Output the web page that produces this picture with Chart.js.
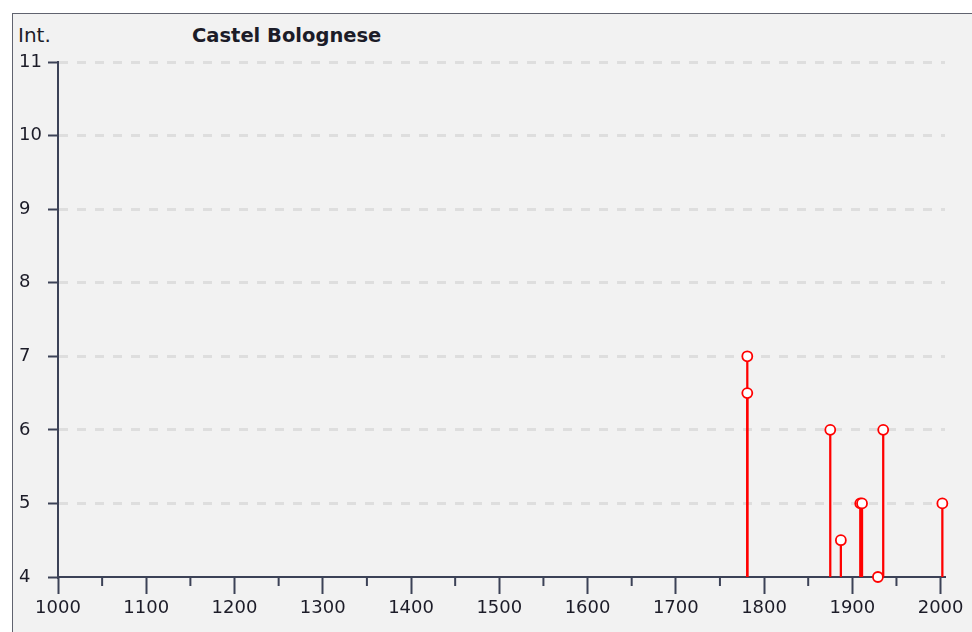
<!DOCTYPE html>
<html>
<head>
<meta charset="utf-8">
<script src="https://cdn.jsdelivr.net/npm/chart.js@4/dist/chart.umd.min.js"></script>
<style>
  html, body { margin: 0; padding: 0; background: #fff; overflow: hidden; }
  body { width: 972px; height: 632px; position: relative; }
  #frame { position: absolute; left: 12px; top: 13px; width: 1000px; height: 700px;
           border: 1px solid #60636f; background: #f2f2f2; }
  #wrap { position: absolute; left: 13px; top: 14px; width: 959px; height: 618px; }
  .lbl { position: absolute; font-family: "DejaVu Sans", sans-serif; font-size: 19.5px;
         line-height: 19px; color: #1c1c28; white-space: nowrap; }
  #ytitle { left: 18px; top: 26px; font-size: 20px; }
  #title { left: 192px; top: 26px; font-weight: bold; }
</style>
</head>
<body>
<div id="frame"></div>
<div class="lbl" id="ytitle">Int.</div>
<div class="lbl" id="title">Castel Bolognese</div>
<div id="wrap"><canvas id="chart"></canvas></div>
<script>
// earthquake years and felt intensity
const years = [1781, 1781, 1875, 1887, 1909, 1911, 1929, 1935, 2002];
const intensities = [7, 6.5, 6, 4.5, 5, 5, 4, 6, 5];

const AXIS = "#3c4257";
const RED = "#ff0000";

const points = years.map((x, i) => ({ x: x, y: intensities[i] }));

// short ticks at the 50-year marks
const minorTicks = {
  id: "minorTicks",
  afterDatasetsDraw(chart) {
    const s = chart.scales.x;
    const ctx = chart.ctx;
    ctx.save();
    ctx.strokeStyle = AXIS;
    ctx.lineWidth = 2;
    s.ticks.forEach((t) => {
      if (t.value % 100 !== 0) {
        const px = s.getPixelForValue(t.value);
        ctx.beginPath();
        ctx.moveTo(px, s.top);
        ctx.lineTo(px, s.top + 9);
        ctx.stroke();
      }
    });
    ctx.restore();
  },
};

Chart.defaults.font.family = "'DejaVu Sans', sans-serif";
Chart.defaults.font.size = 18;
Chart.defaults.color = "#1c1c28";

const ctx = document.getElementById("chart").getContext("2d");

const chart = new Chart(ctx, {
  type: "scatter",
  data: {
    datasets: [
      {
        type: "bar",
        data: points,
        backgroundColor: RED,
        borderWidth: 0,
        barThickness: 1.6,
        order: 2,
      },
      {
        type: "scatter",
        data: points,
        pointRadius: 5,
        pointBorderWidth: 1.8,
        pointBackgroundColor: "#ffffff",
        pointBorderColor: RED,
        clip: false,
        order: 1,
      },
    ],
  },
  options: {
    responsive: true,
    maintainAspectRatio: false,
    animation: false,
    layout: { padding: { left: 6, top: 48, right: 27, bottom: 0 } },
    plugins: {
      legend: { display: false },
      tooltip: { enabled: false },
      title: { display: false },
    },
    scales: {
      x: {
        type: "linear",
        min: 1000,
        max: 2005,
        offset: false,
        ticks: {
          stepSize: 50,
          includeBounds: false,
          autoSkip: false,
          maxRotation: 0,
          padding: 4,
          callback: (v) => (v % 100 === 0 ? v : ""),
        },
        grid: {
          offset: false,
          drawOnChartArea: false,
          tickLength: 17,
          tickWidth: 2,
          tickColor: (c) =>
            c.tick && c.tick.value % 100 === 0 ? AXIS : "rgba(0,0,0,0)",
        },
        border: { color: AXIS, width: 2 },
        afterFit: (s) => {
          s.height = 55;
        },
      },
      y: {
        type: "linear",
        min: 4,
        max: 11,
        ticks: { stepSize: 1, crossAlign: "far", padding: 4 },
        grid: {
          color: (c) => (c.tick && c.tick.value === 4 ? "rgba(0,0,0,0)" : "#dedede"),
          lineWidth: 3,
          tickColor: AXIS,
          tickLength: 10,
          tickWidth: 2,
        },
        border: { color: AXIS, width: 2, dash: [9, 9] },
        afterFit: (s) => {
          s.width = 39;
        },
      },
    },
  },
  plugins: [minorTicks],
});
</script>
</body>
</html>
